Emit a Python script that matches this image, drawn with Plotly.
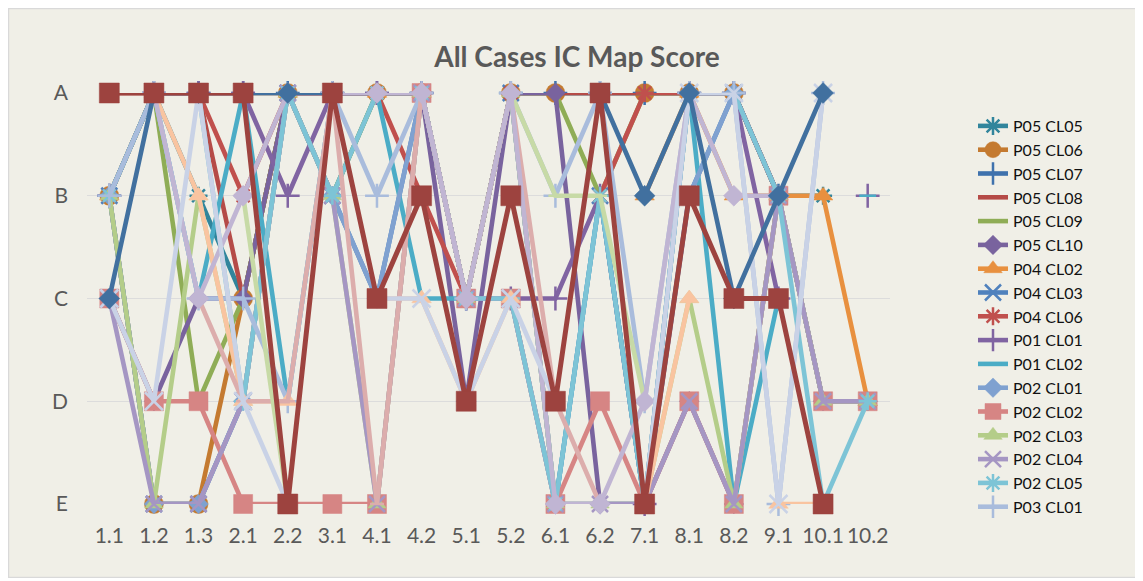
import plotly.graph_objects as go

categories = ["1.1", "1.2", "1.3", "2.1", "2.2", "3.1", "4.1", "4.2", "5.1", "5.2",
              "6.1", "6.2", "7.1", "8.1", "8.2", "9.1", "10.1", "10.2"]
grades = ["E", "D", "C", "B", "A"]
N = None

# legend series
p05_cl05 = ["B", "A", "B", "C", "A", "B", "A", "A", "C", "A", "A", "A", "A", "A", "A", "B", "B", N]
p05_cl06 = ["B", "E", "E", "C", "A", "A", "A", "A", "C", "A", "A", "A", "A", "A", "A", "B", N, N]
p05_cl07 = ["B", "A", "A", "A", "A", "A", "A", "A", "C", "A", "A", "A", "A", "A", "A", "B", N, N]
p05_cl08 = ["A", "A", "A", "C", "A", "A", "A", "A", "C", "A", "A", "A", "A", "A", "A", "B", N, N]
p05_cl09 = ["B", "A", "D", "C", "A", "B", "A", "A", "C", "A", "A", "B", "A", "A", "A", "B", N, N]
p05_cl10 = ["C", "D", "C", "C", "A", "A", "A", "A", "D", "A", "A", "E", "E", "D", "E", "B", "D", "D"]
p04_cl02 = ["B", "A", "A", "A", "A", "A", "A", "A", N, N, N, N, "B", "A", "B", "B", "B", "D"]
p04_cl03 = ["B", "E", "E", "D", "A", "B", "C", "A", "C", "A", "E", "B", "E", "B", "A", "B", "D", "D"]
p04_cl06 = ["B", "A", "A", "B", "A", "A", "A", "B", "C", "A", N, "B", "A", "A", "A", "B", N, N]
p01_cl01 = ["B", "A", "A", "A", "B", "A", "A", "A", "C", "C", "C", "B", "E", "A", "A", "C", N, "B"]
p01_cl02 = ["B", "A", "C", "A", "D", "A", "A", "C", "C", "C", "E", "B", "E", "A", "E", "C", N, "B"]
p02_cl01 = ["B", "E", "E", "D", "A", "B", "C", "A", "C", "A", "E", "E", "E", "B", "A", "B", "D", "D"]
p02_cl02 = ["C", "D", "D", "E", "E", "E", "E", "A", "C", "C", "E", "D", "E", "D", "E", "B", "D", "D"]
p02_cl03 = ["B", "E", "B", "D", "A", "B", "E", "A", "C", "A", "E", "E", "E", "C", "E", "B", "D", "D"]
p02_cl04 = ["C", "E", "E", "D", "A", "B", "E", "A", "C", "C", "E", "E", "E", "D", "E", "B", "D", "D"]
p02_cl05 = ["B", "A", "A", "D", "A", "B", "A", "A", "C", "C", "E", "B", "E", "A", "A", "B", "E", "D"]
p03_cl01 = ["B", "A", "C", "C", "D", "A", "B", "A", "C", "A", "B", "A", "D", "A", "A", "E", "A", N]

# further series drawn in the chart but cut from its legend
extra_peach = [N, "A", "B", "D", "D", N, "C", "C", "D", "C", N, N, "E", "C", N, "E", "E", N]
extra_pink = [N, N, "C", "D", "D", "A", "E", "A", "C", "A", "D", "E", N, N, N, N, N, N]
extra_green = [N, N, N, "B", "E", N, N, N, N, "A", "B", "B", "D", N, N, N, N, N]
extra_lavender = [N, "A", "C", "B", "A", "A", "A", "A", "C", "A", "E", "E", "D", "A", "B", "B", N, N]
extra_paleblue = ["C", "D", "A", "D", "E", N, "C", "C", "D", "C", "D", N, "E", "A", "A", "E", "A", N]
extra_darkblue = ["C", "A", "A", "A", "A", "A", N, N, N, N, N, "A", "B", "A", "C", "B", "A", N]
extra_darkred = ["A", "A", "A", "A", "E", "A", "C", "B", "D", "B", "D", "A", "E", "B", "C", "C", "E", N]

score = {g: i + 1 for i, g in enumerate(grades)}

def to_num(vals):
    return [score[v] if v is not None else None for v in vals]

legend_series = [
    ("P05 CL05", p05_cl05, "#31859c", "asterisk-open", 15),
    ("P05 CL06", p05_cl06, "#c47a30", "circle", 19),
    ("P05 CL07", p05_cl07, "#3f72ad", "cross-thin-open", 17),
    ("P05 CL08", p05_cl08, "#b54b47", "line-ew-open", 12),
    ("P05 CL09", p05_cl09, "#8fad56", "line-ew-open", 12),
    ("P05 CL10", p05_cl10, "#79639e", "diamond", 15),
    ("P04 CL02", p04_cl02, "#e8903f", "triangle-up", 17),
    ("P04 CL03", p04_cl03, "#4f81bd", "x-thin-open", 16),
    ("P04 CL06", p04_cl06, "#c0504d", "asterisk-open", 15),
    ("P01 CL01", p01_cl01, "#8064a2", "cross-thin-open", 17),
    ("P01 CL02", p01_cl02, "#4bacc6", "line-ew-open", 12),
    ("P02 CL01", p02_cl01, "#7fa1d0", "diamond", 15),
    ("P02 CL02", p02_cl02, "#d68584", "square", 19),
    ("P02 CL03", p02_cl03, "#b4cd89", "triangle-up", 16),
    ("P02 CL04", p02_cl04, "#a596c3", "x-thin-open", 16),
    ("P02 CL05", p02_cl05, "#7dc4d6", "asterisk-open", 15),
    ("P03 CL01", p03_cl01, "#a9bcdc", "cross-thin-open", 17),
]
extra_series = [
    ("P03 CL02", extra_peach, "#f9c4a0", "triangle-up", 17),
    ("P03 CL03", extra_pink, "#dcadac", "line-ew-open", 10),
    ("P03 CL04", extra_green, "#c7daa6", "line-ew-open", 10),
    ("P03 CL05", extra_lavender, "#c0b5d3", "diamond", 16),
    ("P03 CL06", extra_paleblue, "#c9d2e6", "x-thin-open", 18),
    ("P05 CL11", extra_darkblue, "#41709f", "diamond", 16),
    ("P05 CL12", extra_darkred, "#9d433f", "square", 20),
]

fig = go.Figure()
for i, (name, vals, col, sym, size) in enumerate(legend_series + extra_series):
    open_sym = sym.endswith("-open")
    fig.add_trace(go.Scatter(
        x=categories, y=to_num(vals), name=name,
        mode="lines+markers",
        line=dict(color=col, width=5 if name == "P05 CL12" else 4.6),
        marker=dict(symbol=sym, size=size, color=col,
                    line=dict(color=col, width=2.5 if open_sym else 0.5)),
        cliponaxis=False,
        connectgaps=False,
        showlegend=i < len(legend_series),
        legendgroup=name,
    ))

# figure sits inside the page's 8px body margin
W, H = 1130, 570
L, R, T, B = 79, 882, 85, 496
pw, ph = R - L, B - T

def px_x(p):
    return (p - L) / pw

def px_y(p):
    return (B - p) / ph

fig.add_shape(type="rect", xref="paper", yref="paper",
              x0=px_x(0.5), x1=px_x(W - 0.5), y0=px_y(H - 0.5), y1=px_y(0.5),
              fillcolor="rgba(0,0,0,0)", line=dict(color="#d9d9d9", width=1.5),
              layer="below")

fig.update_layout(
    width=W, height=H,
    margin=dict(l=L, r=W - R, t=T, b=H - B, pad=0),
    paper_bgcolor="#f0efe7",
    plot_bgcolor="rgba(0,0,0,0)",
    font=dict(family="Lato", color="#595959"),
    title=dict(text="<b>All Cases IC Map Score</b>", x=(577 - 8) / W, xref="container",
               xanchor="center", y=1 - 49 / H, yref="container", yanchor="middle",
               font=dict(size=28, color="#595959", family="Lato")),
    xaxis=dict(type="category", range=[-0.5, len(categories) - 0.5],
               showgrid=False, zeroline=False, showline=False,
               tickfont=dict(size=21, color="#595959"), ticks="",
               ticklabelstandoff=17, fixedrange=True),
    yaxis=dict(range=[1, 5], tickvals=[1, 2, 3, 4, 5], ticktext=grades,
               showgrid=True, gridcolor="#dcdcdc", gridwidth=1.2,
               zeroline=False, showline=False, ticks="",
               tickfont=dict(size=21, color="#595959"),
               ticklabelstandoff=18, fixedrange=True),
    legend=dict(x=px_x(965), xanchor="left", y=px_y(101), yanchor="top",
                bgcolor="rgba(0,0,0,0)", font=dict(size=16, color="#111111", family="Lato"),
                tracegroupgap=0, itemwidth=30, maxheight=520),
    showlegend=True,
)

fig.write_html("out.html")
